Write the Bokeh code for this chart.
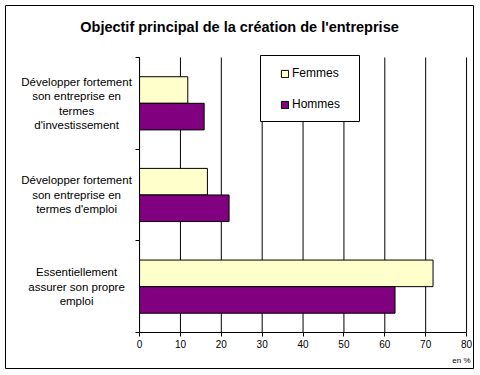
from bokeh.plotting import figure
from bokeh.models import (Range1d, FixedTicker, ColumnDataSource, LabelSet, Label,
                          Legend, LegendItem, LinearAxis, BoxAnnotation)
from bokeh.core.properties import value
from bokeh.embed import file_html
from bokeh.resources import INLINE

# ---- data ----
categories = [
    "Développer fortement\nson entreprise en\ntermes\nd'investissement",
    "Développer fortement\nson entreprise en\ntermes d'emploi",
    "Essentiellement\nassurer son propre\nemploi",
]
femmes = [11.8, 16.6, 71.8]
hommes = [15.8, 21.9, 62.5]
x_ticks = [0, 10, 20, 30, 40, 50, 60, 70, 80]
series_names = ["Femmes", "Hommes"]
title_text = "Objectif principal de la création de l'entreprise"
unit_text = "en %"

# ---- layout (visible window of the frame, which doubles as the outer border) ----
x_view = (-32.8, 81.7)
FONT = "Liberation Sans"
n = len(categories)
y_view = (-0.393, n + 0.567)
centers = [n - i - 0.5 for i in range(n)]
off = 0.145
bh = 0.29
LINE_PX = 14.5

src = ColumnDataSource(dict(
    yf=[c + off for c in centers],
    yh=[c - off for c in centers],
    femmes=femmes,
    hommes=hommes,
))

# one label row per text line so that every line is centred
lx, ly, lt, lo = [], [], [], []
for c, cat in zip(centers, categories):
    lines = cat.split("\n")
    m = len(lines)
    for k, t in enumerate(lines):
        lx.append(0)
        ly.append(c)
        lt.append(t)
        lo.append(((m - 1) / 2 - k) * LINE_PX)
lab_src = ColumnDataSource(dict(x=lx, y=ly, t=lt, yo=lo))

p = figure(width=474, height=369, x_range=Range1d(*x_view), y_range=Range1d(*y_view),
           output_backend="svg", toolbar_location=None, x_axis_type=None, y_axis_type=None,
           min_border_left=5, min_border_right=1, min_border_top=5, min_border_bottom=1)
p.background_fill_color = "white"
p.border_fill_color = "white"
p.outline_line_color = "black"
p.outline_line_width = 1
p.xgrid.visible = False
p.ygrid.visible = False

# vertical grid lines over the category span
p.segment(x0=x_ticks, x1=x_ticks, y0=[0] * len(x_ticks), y1=[n] * len(x_ticks),
          line_color="black", line_width=1)

rf = p.hbar(y="yf", left=0, right="femmes", height=bh, source=src,
            fill_color="#FFFFCC", line_color="black", line_width=1)
rh = p.hbar(y="yh", left=0, right="hommes", height=bh, source=src,
            fill_color="#800080", line_color="black", line_width=1)

xa = LinearAxis(fixed_location=0, bounds=(x_ticks[0], x_ticks[-1]),
                ticker=FixedTicker(ticks=x_ticks))
xa.axis_line_color = "black"
xa.major_tick_line_color = "black"
xa.major_tick_in = 0
xa.major_tick_out = 4
xa.minor_tick_line_color = None
xa.major_label_text_font = FONT
xa.major_label_text_font_size = "10px"
xa.major_label_text_color = "black"
xa.major_label_standoff = 4
p.add_layout(xa, "below")

ya = LinearAxis(fixed_location=0, bounds=(0, n), ticker=FixedTicker(ticks=list(range(n + 1))))
ya.axis_line_color = "black"
ya.major_tick_line_color = "black"
ya.major_tick_in = 0
ya.major_tick_out = 4
ya.minor_tick_line_color = None
ya.major_label_overrides = {i: "" for i in range(n + 1)}
p.add_layout(ya, "left")

# category labels
labels = LabelSet(x="x", y="y", text="t", y_offset="yo", source=lab_src, x_offset=-63,
                  text_align="center", text_baseline="middle",
                  text_font=value(FONT), text_font_size="11.5px", text_color="black")
p.add_layout(labels)

p.add_layout(Label(x=x_ticks[-1], y=0, text=unit_text, text_align="right",
                   text_baseline="middle", x_offset=4, y_offset=-28,
                   text_font=FONT, text_font_size="8px", text_color="black"))

p.add_layout(Label(x=234, y=342, x_units="screen", y_units="screen", text=title_text,
                   text_align="center", text_baseline="middle",
                   text_font=FONT, text_font_size="14.5px", text_font_style="bold",
                   text_color="black"))

# legend frame
p.add_layout(BoxAnnotation(left=255, right=354, bottom=247, top=313,
                           left_units="screen", right_units="screen",
                           top_units="screen", bottom_units="screen",
                           fill_color="white", fill_alpha=1,
                           line_color="black", line_alpha=1, line_width=1))

legend = Legend(items=[LegendItem(label=series_names[0], renderers=[rf]),
                       LegendItem(label=series_names[1], renderers=[rh])],
                location=(275, 257), border_line_color=None,
                background_fill_alpha=0,
                padding=0, spacing=17, glyph_width=9, glyph_height=9,
                label_standoff=3, label_height=10,
                label_text_font=FONT, label_text_font_size="12px", label_text_color="black",
                margin=0)
p.add_layout(legend)

open("out.html", "w").write(file_html(p, INLINE))
